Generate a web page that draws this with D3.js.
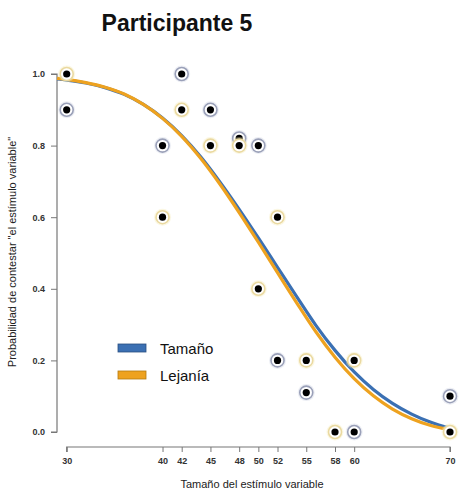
<!DOCTYPE html>
<html><head><meta charset="utf-8">
<script src="https://cdn.jsdelivr.net/npm/d3@7"></script>
<style>body{margin:0;background:#fff}svg{display:block}</style>
</head><body>
<script>
const title = "Participante 5";
const xTicks = [30,40,42,45,48,50,52,55,58,60,70];
const yTicks = [0,0.2,0.4,0.6,0.8,1.0];
const seriesNames = ["Tamaño","Lejanía"];
// observed points
const tamanoX = [30,40,42,45,48,50,52,55,60,70];
const tamanoY = [0.9,0.8,1.0,0.9,0.82,0.8,0.2,0.11,0.0,0.1];
const lejaniaX = [30,40,42,45,48,50,52,55,58,60,70];
const lejaniaY = [1.0,0.6,0.9,0.8,0.8,0.4,0.6,0.2,0.0,0.2,0.0];
// fitted curves
const curveX = [29,30,32,34,36,38,40,42,44,46,48,50,52,54,56,58,60,62,64,66,68,70];
const tamanoCurve = [0.986,0.983,0.975,0.962,0.943,0.915,0.877,0.828,0.768,0.698,0.622,0.542,0.460,0.378,0.298,0.228,0.168,0.119,0.080,0.050,0.027,0.010];
const lejaniaCurve = [0.988,0.985,0.976,0.963,0.944,0.915,0.876,0.826,0.764,0.692,0.613,0.530,0.445,0.361,0.280,0.209,0.149,0.101,0.064,0.037,0.018,0.006];

const W=462,H=493;
const svg=d3.select("body").append("svg").attr("width",W).attr("height",H);
const x=d3.scaleLinear().domain([30,70]).range([66.7,450]);
const y=d3.scaleLinear().domain([0,1]).range([432,74]);
const blue="#3b70b3", orange="#eea21f";

svg.append("text").attr("x",177).attr("y",31).attr("text-anchor","middle")
 .attr("font-family","Liberation Sans, Arial, sans-serif").attr("font-weight","bold")
 .attr("font-size",23).attr("fill","#111").text(title);

const yAxis=svg.append("g").attr("transform","translate(57,0)")
 .call(d3.axisLeft(y).tickValues(yTicks).tickFormat(d3.format(".1f")).tickSize(6).tickPadding(6));
const xAxis=svg.append("g").attr("transform","translate(0,447)")
 .call(d3.axisBottom(x).tickValues(xTicks).tickSize(5).tickPadding(6));
[yAxis,xAxis].forEach(a=>{
  a.select(".domain").attr("stroke","#777").attr("stroke-width",1.2);
  a.selectAll(".tick line").attr("stroke","#777");
  a.selectAll("text").attr("font-family","Liberation Sans Narrow, Liberation Sans, Arial, sans-serif")
   .attr("font-size",9).attr("font-weight","bold").attr("fill","#333");
});
yAxis.select(".domain").attr("d","M-6,"+y(1)+"H0V"+y(0)+"H-6");
xAxis.select(".domain").attr("d","M"+x(30)+",5V0H"+x(70)+"V5");

svg.append("text").attr("transform","translate(16,252) rotate(-90)").attr("text-anchor","middle")
 .attr("font-family","Liberation Sans, Arial, sans-serif").attr("font-size",11).attr("fill","#222")
 .text("Probabilidad de contestar \"el estímulo variable\"");
svg.append("text").attr("x",252).attr("y",488).attr("text-anchor","middle")
 .attr("font-family","Liberation Sans, Arial, sans-serif").attr("font-size",11).attr("fill","#222")
 .text("Tamaño del estímulo variable");

const line=d3.line().x(d=>x(d[0])).y(d=>y(d[1])).curve(d3.curveMonotoneX);
svg.append("path").attr("d",line(curveX.map((v,i)=>[v,tamanoCurve[i]])))
 .attr("fill","none").attr("stroke",blue).attr("stroke-width",3.2);
svg.append("path").attr("d",line(curveX.map((v,i)=>[v,lejaniaCurve[i]])))
 .attr("fill","none").attr("stroke",orange).attr("stroke-width",3.2);

function pts(xs,ys,halo,edge){
  const g=svg.append("g");
  xs.forEach((v,i)=>{
    g.append("circle").attr("cx",x(v)).attr("cy",y(ys[i])).attr("r",8.5).attr("fill",halo).attr("opacity",0.35);
    g.append("circle").attr("cx",x(v)).attr("cy",y(ys[i])).attr("r",6.5).attr("fill","#fff").attr("stroke",edge).attr("stroke-width",1.6);
  });
  xs.forEach((v,i)=>{
    g.append("circle").attr("cx",x(v)).attr("cy",y(ys[i])).attr("r",3.6).attr("fill","#000");
  });
}
pts(tamanoX,tamanoY,"#c8cde0","#9aa0b8");
pts(lejaniaX,lejaniaY,"#f3e7b0","#ead9a0");

const leg=svg.append("g");
[[blue,"#2a4f80",seriesNames[0],348],[orange,"#b57a10",seriesNames[1],375]].forEach(([c,s,t,yy])=>{
  leg.append("rect").attr("x",118).attr("y",yy-4).attr("width",28).attr("height",8).attr("fill",c).attr("stroke",s).attr("stroke-width",0.8);
  leg.append("text").attr("x",160).attr("y",yy+5.5).attr("font-family","Liberation Sans, Arial, sans-serif")
   .attr("font-size",15).attr("fill","#111").text(t);
});
</script>
</body></html>
